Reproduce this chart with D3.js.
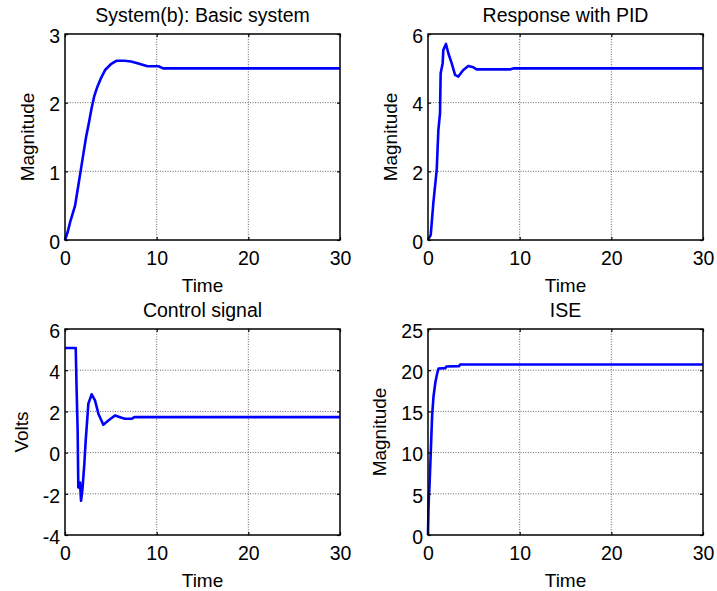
<!DOCTYPE html>
<html>
<head>
<meta charset="utf-8">
<script src="https://cdn.jsdelivr.net/npm/d3@7"></script>
<style>
  body { margin: 0; background: #fff; }
  text { font-family: Arial, "Liberation Sans", sans-serif; fill: #000; }
</style>
</head>
<body>
<svg id="fig" width="717" height="591"></svg>
<script>
// System(b): basic system step response
var tBasic = [0, 0.3, 0.6, 1.1, 1.4, 1.7, 2.0, 2.3, 2.6, 2.9, 3.2, 3.5, 3.9, 4.4, 5.0, 5.6, 6.5, 7.2, 8.0, 9.0, 10.2, 10.7, 30];
var yBasic = [0, 0.12, 0.28, 0.5, 0.75, 1.0, 1.25, 1.5, 1.7, 1.92, 2.1, 2.22, 2.35, 2.48, 2.56, 2.61, 2.61, 2.6, 2.57, 2.53, 2.53, 2.5, 2.5];

// response with PID
var tPid = [0, 0.3, 0.58, 0.95, 1.13, 1.31, 1.38, 1.6, 1.67, 1.96, 2.22, 2.58, 2.95, 3.31, 3.85, 4.4, 4.95, 5.3, 9.0, 9.4, 30];
var yPid = [0, 0.15, 1.07, 2.04, 3.2, 3.69, 4.86, 5.15, 5.53, 5.71, 5.44, 5.15, 4.81, 4.76, 4.95, 5.07, 5.03, 4.97, 4.97, 5.0, 5.0];

// control signal
var tCtrl = [0, 1.17, 1.27, 1.38, 1.45, 1.64, 1.75, 1.89, 2.11, 2.26, 2.55, 2.91, 3.27, 3.64, 4.18, 4.73, 5.45, 6.18, 6.55, 7.27, 7.56, 30];
var uCtrl = [5.08, 5.08, 3.02, 1.07, -1.69, -1.45, -2.34, -1.85, -0.55, 0.59, 2.38, 2.83, 2.54, 1.89, 1.35, 1.56, 1.8, 1.69, 1.64, 1.64, 1.72, 1.72];

// integral of squared error
var tIse = [0, 0.05, 0.1, 0.15, 0.3, 0.45, 0.6, 0.8, 1.0, 1.15, 1.9, 2.0, 3.4, 3.5, 30];
var eIse = [0, 3, 4.8, 5.5, 10, 14.5, 16.8, 18.5, 19.6, 20.2, 20.25, 20.45, 20.5, 20.7, 20.7];

var xTicks = [0, 10, 20, 30];
var ticksBasic = [0, 1, 2, 3];
var ticksPid = [0, 2, 4, 6];
var ticksCtrl = [-4, -2, 0, 2, 4, 6];
var ticksIse = [0, 5, 10, 15, 20, 25];

var panels = [
  {title: "System(b): Basic system", ylab: "Magnitude", t: tBasic, v: yBasic, ydom: [0, 3], yticks: ticksBasic, x0: 65, y0: 34},
  {title: "Response with PID", ylab: "Magnitude", t: tPid, v: yPid, ydom: [0, 6], yticks: ticksPid, x0: 428, y0: 34},
  {title: "Control signal", ylab: "Volts", t: tCtrl, v: uCtrl, ydom: [-4, 6], yticks: ticksCtrl, x0: 65, y0: 329},
  {title: "ISE", ylab: "Magnitude", t: tIse, v: eIse, ydom: [0, 25], yticks: ticksIse, x0: 428, y0: 329}
];

var W = 275, H = 206;
var plain = function(d) { return String(d); };
var svg = d3.select("#fig");
svg.append("rect").attr("width", 717).attr("height", 591).attr("fill", "#fff");

panels.forEach(function(p) {
  var g = svg.append("g").attr("transform", "translate(" + p.x0 + "," + p.y0 + ")");
  var x = d3.scaleLinear().domain([0, 30]).range([0, W]);
  var y = d3.scaleLinear().domain(p.ydom).range([H, 0]);

  // grid
  g.append("g").selectAll("line").data(xTicks.slice(1, -1)).enter().append("line")
    .attr("x1", function(d) { return x(d); }).attr("x2", function(d) { return x(d); })
    .attr("y1", 0).attr("y2", H)
    .attr("stroke", "#444").attr("stroke-width", 0.8).attr("stroke-dasharray", "1,1.5");
  g.append("g").selectAll("line").data(p.yticks.slice(1, -1)).enter().append("line")
    .attr("y1", function(d) { return y(d); }).attr("y2", function(d) { return y(d); })
    .attr("x1", 0).attr("x2", W)
    .attr("stroke", "#444").attr("stroke-width", 0.8).attr("stroke-dasharray", "1,1.5");

  // the curve
  var line = d3.line().x(function(d, i) { return x(p.t[i]); }).y(function(d) { return y(d); });
  g.append("path").datum(p.v).attr("d", line)
    .attr("fill", "none").attr("stroke", "#0000ff").attr("stroke-width", 2.6)
    .attr("stroke-linejoin", "round");

  // axes, ticks inside
  var ax = g.append("g").attr("transform", "translate(0," + H + ")")
    .call(d3.axisBottom(x).tickValues(xTicks).tickFormat(plain).tickSizeInner(-3).tickSizeOuter(0).tickPadding(11));
  var ay = g.append("g")
    .call(d3.axisLeft(y).tickValues(p.yticks).tickFormat(plain).tickSizeInner(-3).tickSizeOuter(0).tickPadding(5));
  g.append("g").call(d3.axisTop(x).tickValues(xTicks).tickSizeInner(-3).tickSizeOuter(0).tickFormat(""));
  g.append("g").attr("transform", "translate(" + W + ",0)")
    .call(d3.axisRight(y).tickValues(p.yticks).tickSizeInner(-3).tickSizeOuter(0).tickFormat(""));
  g.selectAll(".domain").remove();
  g.selectAll(".tick line").attr("stroke", "#000").attr("stroke-width", 1.2);
  ax.selectAll("text").attr("font-size", 19.5).attr("font-family", null).attr("dy", "0.71em");
  ay.selectAll("text").attr("font-size", 19.5).attr("font-family", null).attr("y", 2);

  // frame
  g.append("rect").attr("width", W).attr("height", H)
    .attr("fill", "none").attr("stroke", "#000").attr("stroke-width", 1.5);

  g.append("text").attr("x", W / 2).attr("y", -12.5).attr("text-anchor", "middle")
    .attr("font-size", 19.5).text(p.title);
  g.append("text").attr("x", W / 2).attr("y", H + 52).attr("text-anchor", "middle")
    .attr("font-size", 19).text("Time");

  var lx = ay.node().getBBox().x - 15;
  g.append("text").attr("transform", "translate(" + lx + "," + (H / 2) + ") rotate(-90)")
    .attr("text-anchor", "middle").attr("font-size", 19).text(p.ylab);
});
</script>
</body>
</html>
